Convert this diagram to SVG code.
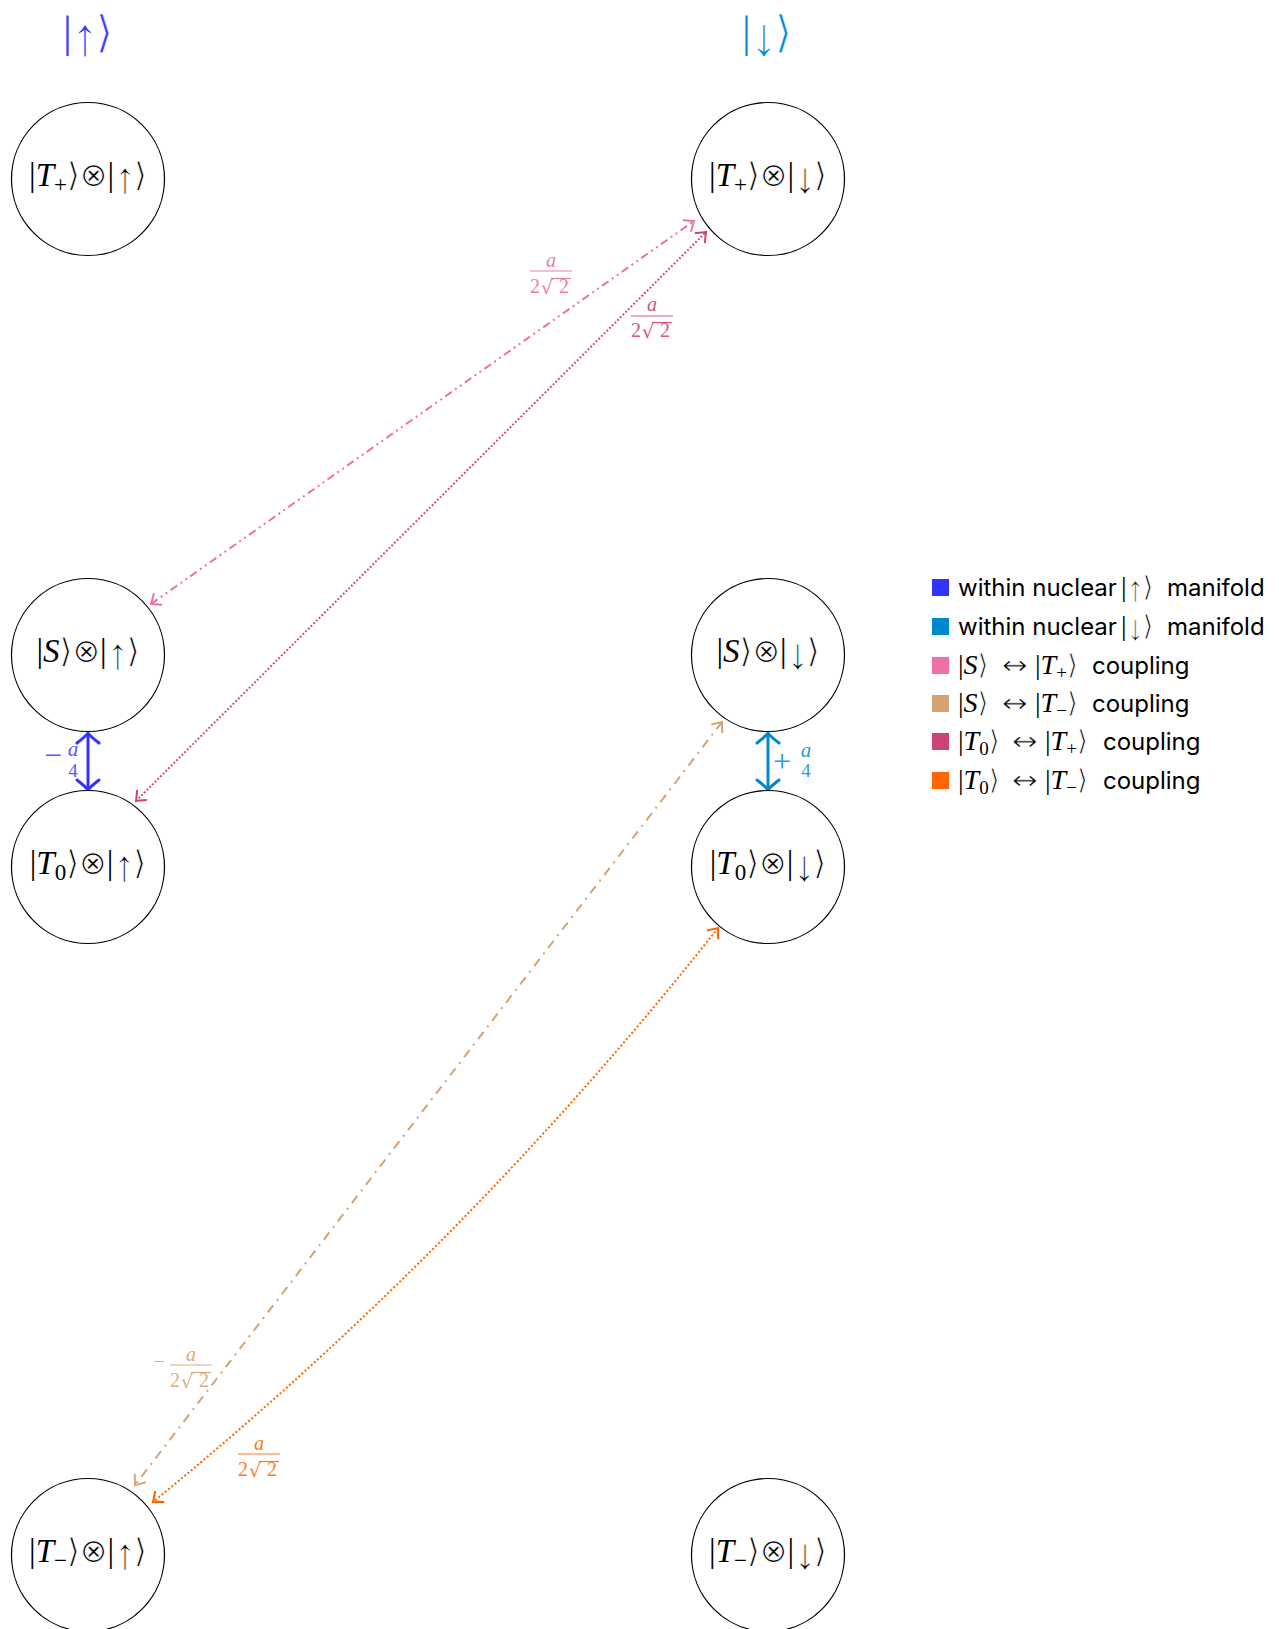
<svg xmlns="http://www.w3.org/2000/svg" width="1279" height="1629" viewBox="0 0 1279 1629">
  <style>
    .node circle { fill: #ffffff; stroke: #000000; stroke-width: 1.2; }
    .m { font-family: "Liberation Serif", "DejaVu Serif", serif; }
    .it { font-style: italic; }
    .sym { font-family: "DejaVu Sans", "DejaVu Serif", sans-serif; stroke: #ffffff; stroke-width: 0.9; }
    .arr { stroke: #ffffff; stroke-width: 0.8; }
    .nl { font-size: 33px; fill: #000000; text-anchor: middle; }
    .leg { font-family: Inter, "Liberation Sans", sans-serif; font-size: 24px; fill: #000000; }
    .legm { font-family: "Liberation Serif", "DejaVu Serif", serif; font-size: 28px; fill: #000000; }
    .lr { font-family: "DejaVu Sans", "DejaVu Serif", sans-serif; font-size: 26px; fill: #000000; stroke: #ffffff; stroke-width: 0.8; }
    .fr { font-family: "Liberation Serif", "DejaVu Serif", serif; font-size: 20px; }
    .rad { font-family: "DejaVu Serif", "Liberation Serif", serif; font-size: 19px; }
    .edge { fill: none; stroke-width: 2; }
  </style>
  <defs>
    <marker id="ah-blue" viewBox="-14 -14 16 28" refX="0" refY="0" markerWidth="16" markerHeight="28" markerUnits="userSpaceOnUse" orient="auto-start-reverse">
      <path d="M-10,-11 Q-3,-2 0,0 Q-3,2 -10,11" fill="none" stroke="#3333ff" stroke-width="3" stroke-linecap="round"/>
    </marker>
    <marker id="ah-cyan" viewBox="-14 -14 16 28" refX="0" refY="0" markerWidth="16" markerHeight="28" markerUnits="userSpaceOnUse" orient="auto-start-reverse">
      <path d="M-10,-11 Q-3,-2 0,0 Q-3,2 -10,11" fill="none" stroke="#0088cc" stroke-width="3" stroke-linecap="round"/>
    </marker>
    <marker id="ah-pink" viewBox="-12 -9 14 18" refX="0" refY="0" markerWidth="14" markerHeight="18" markerUnits="userSpaceOnUse" orient="auto-start-reverse">
      <path d="M-8,-6.5 Q-2,-1.5 0,0 Q-2,1.5 -8,6.5" fill="none" stroke="#f06ea9" stroke-width="2" stroke-linecap="round"/>
    </marker>
    <marker id="ah-mag" viewBox="-12 -9 14 18" refX="0" refY="0" markerWidth="14" markerHeight="18" markerUnits="userSpaceOnUse" orient="auto-start-reverse">
      <path d="M-8,-6.5 Q-2,-1.5 0,0 Q-2,1.5 -8,6.5" fill="none" stroke="#cc4477" stroke-width="2" stroke-linecap="round"/>
    </marker>
    <marker id="ah-tan" viewBox="-12 -9 14 18" refX="0" refY="0" markerWidth="14" markerHeight="18" markerUnits="userSpaceOnUse" orient="auto-start-reverse">
      <path d="M-8,-6.5 Q-2,-1.5 0,0 Q-2,1.5 -8,6.5" fill="none" stroke="#d4a373" stroke-width="2" stroke-linecap="round"/>
    </marker>
    <marker id="ah-orange" viewBox="-12 -9 14 18" refX="0" refY="0" markerWidth="14" markerHeight="18" markerUnits="userSpaceOnUse" orient="auto-start-reverse">
      <path d="M-8,-6.5 Q-2,-1.5 0,0 Q-2,1.5 -8,6.5" fill="none" stroke="#ff6600" stroke-width="2.2" stroke-linecap="round"/>
    </marker>
  </defs>

  <rect width="1279" height="1629" fill="#ffffff"/>

  <!-- column headings: nuclear spin states -->
  <text class="m" x="88" y="47" font-size="44" fill="#3d3dff" text-anchor="middle">|<tspan class="arr" font-size="54" dy="8" stroke-width="1.3">↑</tspan><tspan class="sym" dx="-3" dy="-8" stroke-width="1.3">⟩</tspan></text>
  <text class="m" x="767" y="47" font-size="44" fill="#0a8ad2" text-anchor="middle">|<tspan class="arr" font-size="54" dy="8" stroke-width="1.3">↓</tspan><tspan class="sym" dx="-3" dy="-8" stroke-width="1.3">⟩</tspan></text>

  <!-- connectors -->
  <g id="connectors">
    <!-- within nuclear up / down manifolds -->
    <line x1="88" y1="733" x2="88" y2="790" stroke="#3333ff" stroke-width="3" marker-start="url(#ah-blue)" marker-end="url(#ah-blue)"/>
    <line x1="768" y1="733" x2="768" y2="790" stroke="#0088cc" stroke-width="3" marker-start="url(#ah-cyan)" marker-end="url(#ah-cyan)"/>
    <!-- S <-> T+ -->
    <line class="edge" x1="151" y1="604" x2="694" y2="221" stroke="#f06ea9" stroke-dasharray="8 4 2 4 2 4" marker-start="url(#ah-pink)" marker-end="url(#ah-pink)"/>
    <!-- T0 <-> T+ -->
    <line class="edge" x1="136" y1="801" x2="706" y2="232" stroke="#cc4477" stroke-dasharray="1.8 2" marker-start="url(#ah-mag)" marker-end="url(#ah-mag)"/>
    <!-- S <-> T- -->
    <line class="edge" x1="722" y1="722" x2="135" y2="1485" stroke="#d4a373" stroke-dasharray="9 6 2 6" marker-start="url(#ah-tan)" marker-end="url(#ah-tan)"/>
    <!-- T0 <-> T- -->
    <path class="edge" d="M718,928 Q467,1246 153,1502" stroke="#ff6600" stroke-dasharray="2 2.2" marker-start="url(#ah-orange)" marker-end="url(#ah-orange)"/>
  </g>

  <!-- coupling labels -->
  <g id="edge-labels">
    <!-- -a/4 -->
    <g fill="#5a5aff">
      <text class="m" x="53" y="766" font-size="32" text-anchor="middle">−</text>
      <text class="m it" x="73" y="756" font-size="21" text-anchor="middle">a</text>
      <text class="m" x="73" y="777" font-size="19" text-anchor="middle">4</text>
    </g>
    <!-- +a/4 -->
    <g fill="#2a9ad8">
      <text class="m" x="782" y="772" font-size="32" text-anchor="middle">+</text>
      <text class="m it" x="806" y="757" font-size="21" text-anchor="middle">a</text>
      <text class="m" x="806" y="777" font-size="19" text-anchor="middle">4</text>
    </g>
    <!-- a / 2sqrt2, S <-> T+ -->
    <g fill="#f07aaf">
      <text class="fr it" x="551" y="267" font-size="21" text-anchor="middle">a</text>
      <line x1="530" y1="271" x2="572" y2="271" stroke="#f07aaf" stroke-width="1.2"/>
      <text class="fr" x="530" y="293">2</text>
      <text class="rad" x="541" y="294">√</text>
      <line x1="551" y1="278.5" x2="571" y2="278.5" stroke="#f07aaf" stroke-width="1.2"/>
      <text class="fr" x="559" y="293">2</text>
    </g>
    <!-- a / 2sqrt2, T0 <-> T+ -->
    <g fill="#d15585">
      <text class="fr it" x="652" y="311" font-size="21" text-anchor="middle">a</text>
      <line x1="631" y1="316" x2="673" y2="316" stroke="#d15585" stroke-width="1.2"/>
      <text class="fr" x="631" y="337">2</text>
      <text class="rad" x="642" y="338">√</text>
      <line x1="652" y1="322.5" x2="672" y2="322.5" stroke="#d15585" stroke-width="1.2"/>
      <text class="fr" x="660" y="337">2</text>
    </g>
    <!-- -a / 2sqrt2, S <-> T- -->
    <g fill="#d9ad80">
      <text class="fr" x="159" y="1368" font-size="22" text-anchor="middle">−</text>
      <text class="fr it" x="191" y="1361" font-size="21" text-anchor="middle">a</text>
      <line x1="170" y1="1365" x2="212" y2="1365" stroke="#d9ad80" stroke-width="1.2"/>
      <text class="fr" x="170" y="1387">2</text>
      <text class="rad" x="181" y="1388">√</text>
      <line x1="191" y1="1372.5" x2="211" y2="1372.5" stroke="#d9ad80" stroke-width="1.2"/>
      <text class="fr" x="199" y="1387">2</text>
    </g>
    <!-- a / 2sqrt2, T0 <-> T- -->
    <g fill="#ff7a1f">
      <text class="fr it" x="259" y="1450" font-size="21" text-anchor="middle">a</text>
      <line x1="238" y1="1454" x2="280" y2="1454" stroke="#ff7a1f" stroke-width="1.2"/>
      <text class="fr" x="238" y="1476">2</text>
      <text class="rad" x="249" y="1477">√</text>
      <line x1="259" y1="1461.5" x2="279" y2="1461.5" stroke="#ff7a1f" stroke-width="1.2"/>
      <text class="fr" x="267" y="1476">2</text>
    </g>
  </g>

  <!-- states: electron pair state x nuclear spin -->
  <g id="node-Tp-up" class="node">
    <circle cx="88" cy="179" r="76.5"/>
    <text class="m nl" x="88" y="186">|<tspan class="it">T</tspan><tspan font-size="23" dy="6">+</tspan><tspan class="sym" dy="-6">⟩⊗</tspan>|<tspan class="arr" font-size="44" dy="7">↑</tspan><tspan class="sym" dx="-2" dy="-7">⟩</tspan></text>
  </g>
  <g id="node-Tp-down" class="node">
    <circle cx="768" cy="179" r="76.5"/>
    <text class="m nl" x="768" y="186">|<tspan class="it">T</tspan><tspan font-size="23" dy="6">+</tspan><tspan class="sym" dy="-6">⟩⊗</tspan>|<tspan class="arr" font-size="44" dy="7">↓</tspan><tspan class="sym" dx="-2" dy="-7">⟩</tspan></text>
  </g>
  <g id="node-S-up" class="node">
    <circle cx="88" cy="655" r="76.5"/>
    <text class="m nl" x="88" y="662">|<tspan class="it">S</tspan><tspan class="sym">⟩⊗</tspan>|<tspan class="arr" font-size="44" dy="7">↑</tspan><tspan class="sym" dx="-2" dy="-7">⟩</tspan></text>
  </g>
  <g id="node-S-down" class="node">
    <circle cx="768" cy="655" r="76.5"/>
    <text class="m nl" x="768" y="662">|<tspan class="it">S</tspan><tspan class="sym">⟩⊗</tspan>|<tspan class="arr" font-size="44" dy="7">↓</tspan><tspan class="sym" dx="-2" dy="-7">⟩</tspan></text>
  </g>
  <g id="node-T0-up" class="node">
    <circle cx="88" cy="867" r="76.5"/>
    <text class="m nl" x="88" y="874">|<tspan class="it">T</tspan><tspan font-size="23" dy="6">0</tspan><tspan class="sym" dy="-6">⟩⊗</tspan>|<tspan class="arr" font-size="44" dy="7">↑</tspan><tspan class="sym" dx="-2" dy="-7">⟩</tspan></text>
  </g>
  <g id="node-T0-down" class="node">
    <circle cx="768" cy="867" r="76.5"/>
    <text class="m nl" x="768" y="874">|<tspan class="it">T</tspan><tspan font-size="23" dy="6">0</tspan><tspan class="sym" dy="-6">⟩⊗</tspan>|<tspan class="arr" font-size="44" dy="7">↓</tspan><tspan class="sym" dx="-2" dy="-7">⟩</tspan></text>
  </g>
  <g id="node-Tm-up" class="node">
    <circle cx="88" cy="1555" r="76.5"/>
    <text class="m nl" x="88" y="1562">|<tspan class="it">T</tspan><tspan font-size="23" dy="6">−</tspan><tspan class="sym" dy="-6">⟩⊗</tspan>|<tspan class="arr" font-size="44" dy="7">↑</tspan><tspan class="sym" dx="-2" dy="-7">⟩</tspan></text>
  </g>
  <g id="node-Tm-down" class="node">
    <circle cx="768" cy="1555" r="76.5"/>
    <text class="m nl" x="768" y="1562">|<tspan class="it">T</tspan><tspan font-size="23" dy="6">−</tspan><tspan class="sym" dy="-6">⟩⊗</tspan>|<tspan class="arr" font-size="44" dy="7">↓</tspan><tspan class="sym" dx="-2" dy="-7">⟩</tspan></text>
  </g>

  <!-- legend -->
  <g id="legend">
    <rect x="932" y="579" width="17" height="17" fill="#3333ff"/>
    <text class="leg" x="958" y="596">within nuclear</text>
    <text class="legm" x="1121" y="596">|<tspan class="arr" font-size="36" dy="5" stroke-width="0.7">↑</tspan><tspan class="sym" dx="-2" dy="-5">⟩</tspan></text>
    <text class="leg" x="1167" y="596">manifold</text>

    <rect x="932" y="618" width="17" height="17" fill="#0088cc"/>
    <text class="leg" x="958" y="635">within nuclear</text>
    <text class="legm" x="1121" y="635">|<tspan class="arr" font-size="36" dy="5" stroke-width="0.7">↓</tspan><tspan class="sym" dx="-2" dy="-5">⟩</tspan></text>
    <text class="leg" x="1167" y="635">manifold</text>

    <rect x="932" y="657" width="17" height="17" fill="#f06ea9"/>
    <text class="legm" x="958" y="674">|<tspan class="it">S</tspan><tspan class="sym">⟩</tspan></text>
    <text class="lr" x="1002" y="674" textLength="26" lengthAdjust="spacingAndGlyphs">↔</text>
    <text class="legm" x="1035" y="674">|<tspan class="it">T</tspan><tspan font-size="19" dy="5">+</tspan><tspan class="sym" dy="-5">⟩</tspan></text>
    <text class="leg" x="1092" y="674">coupling</text>

    <rect x="932" y="695" width="17" height="17" fill="#d4a373"/>
    <text class="legm" x="958" y="712">|<tspan class="it">S</tspan><tspan class="sym">⟩</tspan></text>
    <text class="lr" x="1002" y="712" textLength="26" lengthAdjust="spacingAndGlyphs">↔</text>
    <text class="legm" x="1035" y="712">|<tspan class="it">T</tspan><tspan font-size="19" dy="5">−</tspan><tspan class="sym" dy="-5">⟩</tspan></text>
    <text class="leg" x="1092" y="712">coupling</text>

    <rect x="932" y="733" width="17" height="17" fill="#cc4477"/>
    <text class="legm" x="958" y="750">|<tspan class="it">T</tspan><tspan font-size="19" dy="5">0</tspan><tspan class="sym" dy="-5">⟩</tspan></text>
    <text class="lr" x="1012" y="750" textLength="26" lengthAdjust="spacingAndGlyphs">↔</text>
    <text class="legm" x="1045" y="750">|<tspan class="it">T</tspan><tspan font-size="19" dy="5">+</tspan><tspan class="sym" dy="-5">⟩</tspan></text>
    <text class="leg" x="1103" y="750">coupling</text>

    <rect x="932" y="772" width="17" height="17" fill="#ff6600"/>
    <text class="legm" x="958" y="789">|<tspan class="it">T</tspan><tspan font-size="19" dy="5">0</tspan><tspan class="sym" dy="-5">⟩</tspan></text>
    <text class="lr" x="1012" y="789" textLength="26" lengthAdjust="spacingAndGlyphs">↔</text>
    <text class="legm" x="1045" y="789">|<tspan class="it">T</tspan><tspan font-size="19" dy="5">−</tspan><tspan class="sym" dy="-5">⟩</tspan></text>
    <text class="leg" x="1103" y="789">coupling</text>
  </g>
</svg>
